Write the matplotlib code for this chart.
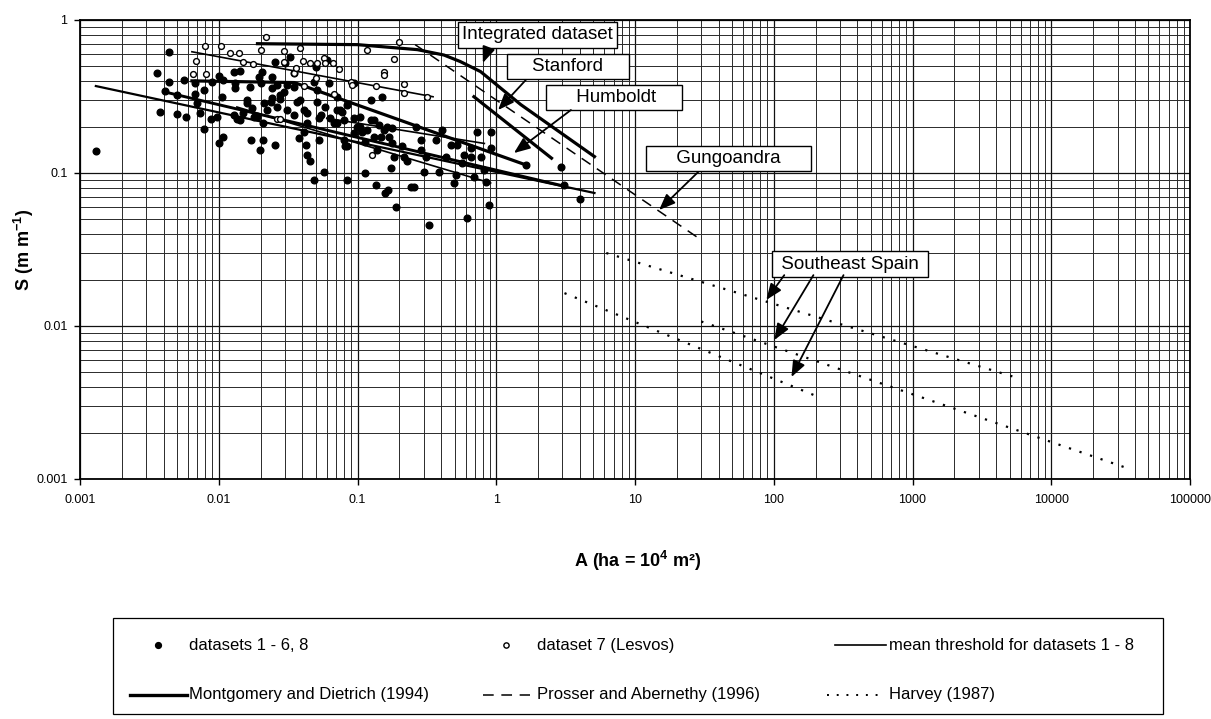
import matplotlib
matplotlib.use("Agg")
import matplotlib.pyplot as plt
from matplotlib.lines import Line2D
from matplotlib.patches import Rectangle
from matplotlib.ticker import FixedLocator, FixedFormatter, NullFormatter

plt.rcParams.update({
    "font.family": ["Liberation Sans", "DejaVu Sans"],
    "mathtext.fontset": "custom",
    "mathtext.rm": "Liberation Sans",
    "mathtext.bf": "Liberation Sans:bold",
    "mathtext.it": "Liberation Sans:italic",
})

# axis ticks
x_ticks = [0.001, 0.01, 0.1, 1, 10, 100, 1000, 10000, 100000]
x_labels = ["0.001", "0.01", "0.1", "1", "10", "100", "1000", "10000", "100000"]
y_ticks = [0.001, 0.01, 0.1, 1]
y_labels = ["0.001", "0.01", "0.1", "1"]

# --- datasets 1 - 6, 8 (filled dots), A in ha, S in m/m ---
dense_A = [0.0013, 0.00435, 0.00361, 0.00435, 0.00564, 0.00411, 0.00499, 0.00379, 0.00503, 0.00577,
           0.00676, 0.00676, 0.00776, 0.00695, 0.00728, 0.00776, 0.00877, 0.00893, 0.00998, 0.0108,
           0.0097, 0.0105, 0.0101, 0.0107, 0.0129, 0.0143, 0.0131, 0.0131, 0.0135, 0.0149,
           0.0160, 0.0169, 0.0178, 0.0171, 0.0194, 0.0200, 0.0205, 0.0208, 0.0209, 0.0197,
           0.0223, 0.0242, 0.0242, 0.0256, 0.0256, 0.0263, 0.0278, 0.0294, 0.0302, 0.0328,
           0.0347, 0.0347, 0.0366, 0.0377, 0.0387, 0.0410, 0.0414, 0.0422, 0.0434, 0.0458,
           0.0484, 0.0484, 0.0498, 0.0512, 0.0526, 0.053, 0.0571, 0.0604, 0.0621, 0.0675,
           0.0713, 0.0753, 0.0796, 0.0818, 0.0841, 0.0841, 0.0942, 0.0995, 0.105, 0.108,
           0.114, 0.124, 0.124, 0.135, 0.139, 0.147, 0.151, 0.159, 0.164, 0.166,
           0.173, 0.178, 0.183, 0.188,
           0.0541, 0.0638, 0.0713, 0.0775, 0.0942, 0.105, 0.117, 0.131, 0.143, 0.155,
           0.168, 0.178, 0.131, 0.114, 0.0942, 0.0798, 0.0843, 0.0713, 0.0587, 0.0512,
           0.0434, 0.0434, 0.0347, 0.0310, 0.0263, 0.0236, 0.0211, 0.0189, 0.0174, 0.0160,
           0.0143, 0.0128, 0.0278, 0.0310, 0.0242,
           0.216, 0.229, 0.210, 0.242, 0.255, 0.262, 0.285, 0.285, 0.301, 0.310,
           0.327, 0.366, 0.386, 0.408, 0.431, 0.470, 0.497, 0.511, 0.525, 0.570,
           0.586, 0.619, 0.655, 0.655, 0.692, 0.731, 0.773, 0.817, 0.840, 0.887,
           0.912, 0.912, 1.63, 2.92, 3.09, 4.03]
dense_S = [0.139, 0.621, 0.448, 0.395, 0.405, 0.345, 0.324, 0.252, 0.243, 0.231,
           0.328, 0.385, 0.349, 0.285, 0.245, 0.193, 0.224, 0.395, 0.431, 0.405,
           0.233, 0.312, 0.156, 0.171, 0.460, 0.467, 0.385, 0.358, 0.224, 0.245,
           0.285, 0.363, 0.233, 0.164, 0.426, 0.385, 0.460, 0.211, 0.164, 0.141,
           0.258, 0.308, 0.426, 0.534, 0.152, 0.376, 0.303, 0.340, 0.526, 0.576,
           0.448, 0.363, 0.292, 0.169, 0.300, 0.186, 0.258, 0.152, 0.131, 0.119,
           0.090, 0.395, 0.495, 0.349, 0.228, 0.164, 0.102, 0.548, 0.385, 0.211,
           0.315, 0.258, 0.222, 0.149, 0.090, 0.278, 0.385, 0.201, 0.233, 0.186,
           0.0995, 0.300, 0.222, 0.0835, 0.141, 0.173, 0.315, 0.0736, 0.201, 0.0774,
           0.107, 0.156, 0.128, 0.0603,
           0.239, 0.228, 0.211, 0.252, 0.228, 0.201, 0.191, 0.222, 0.206, 0.191,
           0.173, 0.196, 0.173, 0.160, 0.182, 0.164, 0.149, 0.258, 0.272, 0.293,
           0.245, 0.211, 0.239, 0.258, 0.272, 0.293, 0.286, 0.234, 0.265, 0.300,
           0.222, 0.239, 0.324, 0.377, 0.358,
           0.128, 0.119, 0.149, 0.0814, 0.0814, 0.201, 0.164, 0.141, 0.102, 0.128,
           0.0457, 0.164, 0.102, 0.191, 0.128, 0.152, 0.0855, 0.097, 0.152, 0.116,
           0.131, 0.0506, 0.145, 0.128, 0.0946, 0.186, 0.128, 0.105, 0.0877, 0.0618,
           0.186, 0.145, 0.113, 0.110, 0.0835, 0.0673]

# --- dataset 7 (Lesvos), open circles ---
lesvos_A = [0.0219, 0.0080, 0.0104, 0.0121, 0.0139, 0.00684, 0.00657, 0.00813, 0.0202, 0.0294,
            0.0388, 0.0150, 0.0177, 0.0294, 0.0347, 0.0363, 0.0403, 0.0458, 0.0512, 0.0571,
            0.0578, 0.0668, 0.0733, 0.0891, 0.0906, 0.0410, 0.0675, 0.0498, 0.117, 0.199,
            0.183, 0.155, 0.155, 0.216, 0.216, 0.135, 0.318, 0.0263, 0.0278, 0.128]
lesvos_S = [0.778, 0.676, 0.679, 0.611, 0.611, 0.539, 0.441, 0.441, 0.636, 0.630,
            0.653, 0.529, 0.513, 0.534, 0.448, 0.483, 0.539, 0.521, 0.521, 0.561,
            0.521, 0.521, 0.476, 0.395, 0.376, 0.370, 0.328, 0.416, 0.636, 0.722,
            0.553, 0.459, 0.437, 0.380, 0.332, 0.370, 0.315, 0.224, 0.224, 0.132]

# --- mean thresholds for datasets 1 - 8 (thin) ---
mean_lesvos_A, mean_lesvos_S = [0.0064, 0.35], [0.62, 0.315]
mean_long_A, mean_long_S = [0.0013, 5.1], [0.37, 0.074]
mean_mid_A, mean_mid_S = [0.0135, 0.91], [0.27, 0.086]
mean_short_A, mean_short_S = [0.060, 0.82], [0.228, 0.156]

# --- Montgomery and Dietrich (1994) (thick) ---
integrated_A = [0.019, 0.10, 0.27, 0.42, 0.55, 0.77, 1.5, 5.1]
integrated_S = [0.70, 0.69, 0.64, 0.59, 0.535, 0.46, 0.28, 0.128]
stanford_A, stanford_S = [0.69, 2.5], [0.315, 0.125]
humboldt_A, humboldt_S = [0.0064, 0.035, 1.63], [0.40, 0.39, 0.113]
md_other_A, md_other_S = [0.004, 3.09], [0.34, 0.082]

# --- Prosser and Abernethy (1996), Gungoandra ---
prosser_A, prosser_S = [0.26, 30], [0.69, 0.0365]

# --- Harvey (1987), Southeast Spain ---
harvey1_A, harvey1_S = [6.2, 5600], [0.030, 0.0046]
harvey2_A, harvey2_S = [30, 35000], [0.0107, 0.00118]
harvey3_A, harvey3_S = [3.1, 200], [0.0164, 0.0035]

fig = plt.figure(figsize=(12.11, 7.19), dpi=100)
ax = fig.add_axes([0.0661, 0.3338, 0.9166, 0.6384])
ax.set_xscale("log")
ax.set_yscale("log")
ax.set_xlim(1e-3, 1e5)
ax.set_ylim(1e-3, 1)

# minor grid positions: 2..9 within each decade
x_minor = [m * 10.0 ** e for e in range(-3, 5) for m in range(2, 10)]
y_minor = [m * 10.0 ** e for e in range(-3, 0) for m in range(2, 10)]
ax.xaxis.set_major_locator(FixedLocator(x_ticks))
ax.xaxis.set_major_formatter(FixedFormatter(x_labels))
ax.xaxis.set_minor_locator(FixedLocator(x_minor))
ax.xaxis.set_minor_formatter(NullFormatter())
ax.yaxis.set_major_locator(FixedLocator(y_ticks))
ax.yaxis.set_major_formatter(FixedFormatter(y_labels))
ax.yaxis.set_minor_locator(FixedLocator(y_minor))
ax.yaxis.set_minor_formatter(NullFormatter())

ax.set_axisbelow(True)
ax.grid(True, which="major", color="#111111", lw=0.9)
ax.grid(True, which="minor", color="#2a2a2a", lw=0.7)
ax.tick_params(which="minor", length=0)
ax.tick_params(which="major", length=4, width=1, labelsize=9, direction="out")
ax.tick_params(axis="x", pad=7)
ax.tick_params(axis="y", pad=5)
for sp in ax.spines.values():
    sp.set_linewidth(1.3)

# lines
ax.plot(mean_lesvos_A, mean_lesvos_S, color="black", lw=1.2, zorder=3)
ax.plot(mean_long_A, mean_long_S, color="black", lw=1.6, zorder=3)
ax.plot(mean_mid_A, mean_mid_S, color="black", lw=1.2, zorder=3)
ax.plot(mean_short_A, mean_short_S, color="black", lw=1.2, zorder=3)
ax.plot(integrated_A, integrated_S, color="black", lw=2.3, zorder=3)
ax.plot(stanford_A, stanford_S, color="black", lw=2.3, zorder=3)
ax.plot(humboldt_A, humboldt_S, color="black", lw=2.3, zorder=3)
ax.plot(md_other_A, md_other_S, color="black", lw=2.1, zorder=3)
ax.plot(prosser_A, prosser_S, color="black", lw=1.1, ls=(0, (7, 5)), zorder=3)
for hA, hS in [(harvey1_A, harvey1_S), (harvey2_A, harvey2_S), (harvey3_A, harvey3_S)]:
    ax.plot(hA, hS, color="black", lw=1.6, ls=(0, (1, 4)), zorder=3)

# points
ax.plot(dense_A, dense_S, "o", ms=4.8, color="black", zorder=4)
ax.plot(lesvos_A, lesvos_S, "o", ms=4.2, mfc="white", mec="black", mew=1.0, zorder=4)

# annotations
box = dict(boxstyle="square,pad=0.22", fc="white", ec="black", lw=1)
arrow = dict(arrowstyle="-|>,head_length=0.7,head_width=0.28", color="black",
             lw=1.3, shrinkA=0, shrinkB=0, mutation_scale=14)

labels = [
    ("Integrated dataset", 1.98, 0.798),
    ("    Stanford    ", 3.28, 0.497),
    ("     Humboldt    ", 7.05, 0.311),
    ("     Gungoandra     ", 47.3, 0.124),
    (" Southeast Spain ", 354, 0.0254),
]
for txt, x, y in labels:
    ax.text(x, y, txt, ha="center", va="center", fontsize=13.5, bbox=box, zorder=6)

arrows = [
    ((0.80, 0.524), (0.869, 0.637)),
    ((1.03, 0.258), (1.63, 0.405)),
    ((1.34, 0.135), (3.45, 0.258)),
    ((14.9, 0.0573), (28.5, 0.1015)),
    ((88.3, 0.0148), (119, 0.0215)),
    ((101, 0.0081), (193, 0.0215)),
    ((134, 0.00464), (318, 0.0215)),
]
for tip, tail in arrows:
    ax.annotate("", xy=tip, xytext=tail, arrowprops=arrow, zorder=6)

ax.set_xlabel(r"A (ha = 10$^{\mathbf{4}}$ m²)", fontsize=13, fontweight="bold")
ax.set_ylabel(r"S (m m$^{\mathbf{-1}}$)", fontsize=13, fontweight="bold")
ax.xaxis.set_label_coords(0.502, -0.153)
ax.yaxis.set_label_coords(-0.040, 0.5)

# legend box drawn by hand
T = fig.transFigure
fig.add_artist(Rectangle((0.0933, 0.0070), 0.8671, 0.1335, transform=T,
                         fill=False, ec="black", lw=0.9))
r1, r2 = 0.1029, 0.0334
fs = 12
fig.add_artist(Line2D([0.1305], [r1], marker="o", ms=4.2, color="black", transform=T))
fig.text(0.1561, r1, "datasets 1 - 6, 8", va="center", fontsize=fs)
fig.add_artist(Line2D([0.1073, 0.1544], [r2, r2], lw=2.4, color="black", transform=T))
fig.text(0.1561, r2, "Montgomery and Dietrich (1994)", va="center", fontsize=fs)
fig.add_artist(Line2D([0.4178], [r1], marker="o", ms=3.8, mfc="white", mec="black",
                      mew=1.0, transform=T))
fig.text(0.4434, r1, "dataset 7 (Lesvos)", va="center", fontsize=fs)
fig.add_artist(Line2D([0.3988, 0.4377], [r2, r2], lw=1.1, ls=(0, (7, 5)),
                      color="black", transform=T))
fig.text(0.4434, r2, "Prosser and Abernethy (1996)", va="center", fontsize=fs)
fig.add_artist(Line2D([0.6895, 0.7316], [r1, r1], lw=1.2, color="black", transform=T))
fig.text(0.7341, r1, "mean threshold for datasets 1 - 8", va="center", fontsize=fs)
fig.add_artist(Line2D([0.6830, 0.7300], [r2, r2], lw=1.4, ls=(0, (1, 4)),
                      color="black", transform=T))
fig.text(0.7341, r2, "Harvey (1987)", va="center", fontsize=fs)

fig.savefig("out.png", dpi=100)
